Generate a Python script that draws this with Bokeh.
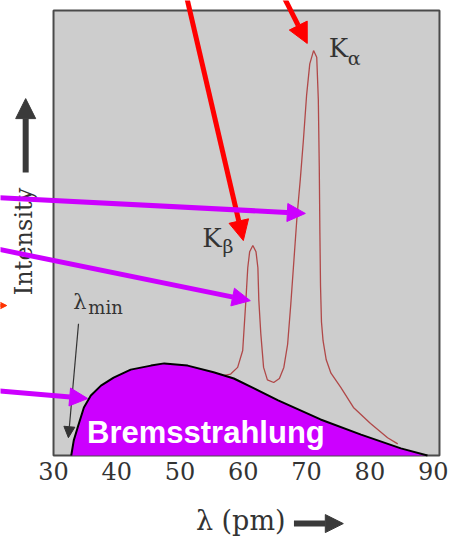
import numpy as np
from bokeh.plotting import figure
from bokeh.models import Arrow, NormalHead, Label, Range1d
from bokeh.embed import file_html
from bokeh.resources import INLINE
from bokeh.core.properties import value

# Continuous spectrum (Bremsstrahlung): wavelength in pm, relative intensity
brems_wl = [32.8, 33.2, 33.9, 34.8, 35.9, 37.5, 39.5, 42.2, 45.4, 47.5,
            51.2, 55.3, 58.5, 61.7, 65.5, 72.2, 78.6, 84.9, 89.1]
brems_int = [0.0, 3.4, 6.7, 10.8, 13.5, 15.7, 17.5, 19.3, 20.2, 20.7,
             20.2, 18.7, 17.3, 15.1, 12.4, 8.1, 4.7, 1.6, 0.0]

# Measured spectrum with the characteristic K lines on top of the continuum
line_wl = [57.0, 58.0, 59.1, 59.9, 60.4, 60.7, 61.0, 61.5, 62.0, 62.3,
           62.45, 62.76, 63.2, 63.8, 64.8, 65.7, 66.4, 67.0, 67.5, 68.0,
           68.5, 69.0, 69.5, 70.0, 70.5, 71.1, 71.6, 71.85, 72.0, 72.1,
           72.2, 72.35, 72.6, 73.1, 73.85, 75.4, 77.4, 80.1, 82.8, 84.4]
line_int = [18.0, 18.3, 19.8, 23.6, 34.8, 42.2, 45.8, 47.2, 45.8, 42.2,
            34.8, 27.4, 19.8, 17.0, 16.4, 17.3, 19.8, 25.0, 34.0, 44.0,
            54.0, 62.0, 71.0, 81.0, 88.0, 91.0, 89.5, 80.0, 65.0, 50.0,
            38.0, 30.0, 25.8, 21.5, 18.5, 15.3, 10.8, 7.2, 4.0, 2.6]

# Peak positions (wavelength, intensity) of the K lines
k_alpha = (71.1, 91.0)
k_beta = (61.5, 47.2)
lambda_min = 32.8

x_ticks = [30, 40, 50, 60, 70, 80, 90]
x_tick_labels = [str(t) for t in x_ticks]

# plotted region of the spectrum
WL_LO, WL_HI = 30, 91
INT_LO, INT_HI = 0, 100

SERIF = "DejaVu Serif"
INK = "#333333"
MAGENTA = "#cc00ff"
RED = "#ff0000"

# the drawing area spans the whole canvas; the spectrum box sits inside it
p = figure(width=461, height=548,
           x_range=Range1d(21.62, 94.48), y_range=Range1d(-20.9, 102.25),
           output_backend="svg", toolbar_location=None, min_border=0)
p.background_fill_color = "white"
p.border_fill_color = "white"
p.outline_line_color = None
p.grid.visible = False
p.axis.visible = False

p.quad(left=[WL_LO], right=[WL_HI], bottom=[INT_LO], top=[INT_HI],
       fill_color="#cdcdcd", line_color="#4a4a4a", line_width=2)

# tick labels along the wavelength axis
p.text(x=x_ticks, y=[-1.5] * len(x_ticks), text=x_tick_labels,
       text_font=value(SERIF), text_font_size="24px", text_color=INK,
       text_align="center", text_baseline="top")

# characteristic spectrum, partly covered by the continuum fill
p.line(line_wl, line_int, line_color="#b04848", line_width=1.3)

# Bremsstrahlung continuum
p.patch(brems_wl, brems_int, fill_color=MAGENTA, line_color=None)
p.line(brems_wl, brems_int, line_color="black", line_width=2)

p.add_layout(Label(x=35.3, y=1.3, text="Bremsstrahlung", text_font="Liberation Sans",
                   text_font_style="bold", text_font_size="31px", text_color="white"))

# line labels
p.add_layout(Label(x=k_alpha[0] + 2.4, y=k_alpha[1] - 2.7, text="K", text_font=SERIF,
                   text_font_size="26px", text_color=INK))
p.add_layout(Label(x=k_alpha[0] + 5.4, y=k_alpha[1] - 4.2, text="α", text_font=SERIF,
                   text_font_size="19px", text_color=INK))
p.add_layout(Label(x=k_beta[0] - 8.0, y=k_beta[1] - 1.6, text="K", text_font=SERIF,
                   text_font_size="26px", text_color=INK))
p.add_layout(Label(x=k_beta[0] - 4.8, y=k_beta[1] - 2.7, text="β", text_font=SERIF,
                   text_font_size="19px", text_color=INK))

# lambda_min marker
p.add_layout(Label(x=33.1, y=31.9, text="λ", text_font=SERIF,
                   text_font_size="21px", text_color=INK))
p.add_layout(Label(x=35.5, y=30.8, text="min", text_font=SERIF,
                   text_font_size="18px", text_color=INK))
p.add_layout(Arrow(x_start=33.95, y_start=29.6, x_end=lambda_min - 0.45, y_end=4.0,
                   line_color=INK, line_width=1.2,
                   end=NormalHead(size=11, fill_color=INK, line_color=INK)))

# axis titles with their arrows
p.add_layout(Label(x=25.3, y=48.1, text="Intensity", angle=np.pi / 2, text_align="center",
                   text_baseline="middle", text_font=SERIF, text_font_size="24px",
                   text_color=INK))
p.add_layout(Arrow(x_start=25.6, y_start=63.6, x_end=25.6, y_end=80.2,
                   line_color="#3a3a3a", line_width=6,
                   end=NormalHead(size=20, fill_color="#3a3a3a", line_color="#3a3a3a")))
p.add_layout(Label(x=52.5, y=-18.0, text="λ (pm)", text_font=SERIF,
                   text_font_size="27px", text_color=INK))
p.add_layout(Arrow(x_start=68.0, y_start=-15.3, x_end=75.8, y_end=-15.3,
                   line_color="#3a3a3a", line_width=6,
                   end=NormalHead(size=18, fill_color="#3a3a3a", line_color="#3a3a3a")))

# red pointers to the two K lines
p.add_layout(Arrow(x_start=50.8, y_start=104.5, x_end=k_beta[0] - 1.5, y_end=k_beta[1] + 1.1,
                   line_color=RED, line_width=5,
                   end=NormalHead(size=20, fill_color=RED, line_color=RED)))
p.add_layout(Arrow(x_start=65.9, y_start=104.5, x_end=k_alpha[0] - 1.0, y_end=k_alpha[1] + 1.6,
                   line_color=RED, line_width=5,
                   end=NormalHead(size=20, fill_color=RED, line_color=RED)))
p.add_layout(Arrow(x_start=18.0, y_start=33.7, x_end=22.6, y_end=33.7,
                   line_color="#ff3300", line_width=3,
                   end=NormalHead(size=12, fill_color="#ff3300", line_color="#ff3300")))

# magenta pointers to the line flanks and to the continuum edge
for xs, ys, xe, ye in [(20.8, 58.0, 69.8, 54.4),
                       (20.8, 46.5, 61.1, 34.8),
                       (20.8, 14.6, 35.4, 12.8)]:
    p.add_layout(Arrow(x_start=xs, y_start=ys, x_end=xe, y_end=ye,
                       line_color=MAGENTA, line_width=5,
                       end=NormalHead(size=18, fill_color=MAGENTA, line_color=MAGENTA)))

open("out.html", "w").write(file_html(p, INLINE))
